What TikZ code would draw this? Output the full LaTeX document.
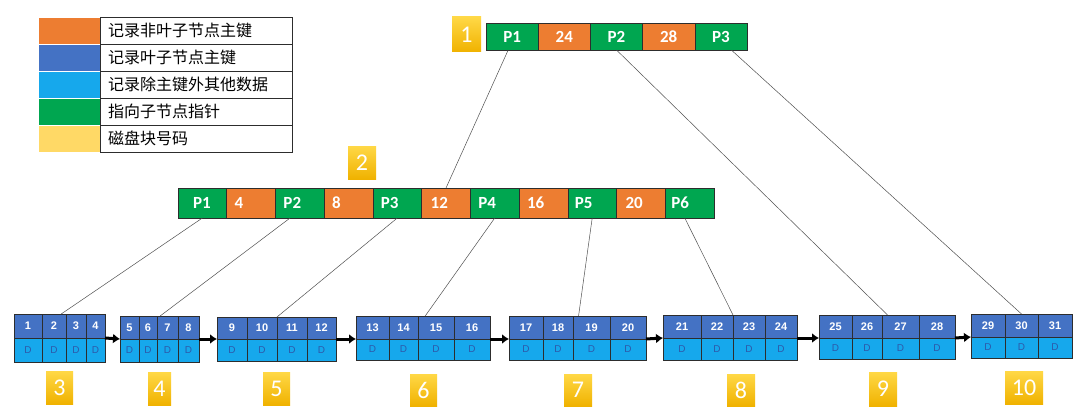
\documentclass[tikz,border=0pt]{standalone}
\usepackage{fontspec}
\setmainfont{Carlito}
\newfontfamily\cjk{Noto Sans CJK SC}
\newfontfamily\arialf{Liberation Sans}
\usetikzlibrary{arrows.meta,calc}
\definecolor{cOrange}{RGB}{237,125,49}
\definecolor{cBlue}{RGB}{68,114,196}
\definecolor{cLight}{RGB}{22,168,236}
\definecolor{cGreen}{RGB}{0,166,80}
\definecolor{cYellow}{RGB}{255,217,102}
\definecolor{cGoldTop}{RGB}{255,216,70}
\definecolor{cGoldBot}{RGB}{240,178,0}
\definecolor{cBorder}{RGB}{45,45,45}
\definecolor{cD}{RGB}{45,90,170}
\definecolor{cLink}{RGB}{80,80,80}
\tikzset{
  keycell/.style={draw=cBorder, fill=cBlue, text=white, line width=0.6pt,
    font=\arialf\bfseries\fontsize{11}{13}\selectfont, anchor=north west, inner sep=0pt, outer sep=0pt},
  datacell/.style={draw=cBorder, fill=cLight, text=cD, line width=0.6pt,
    font=\arialf\fontsize{10}{12}\selectfont, anchor=north west, inner sep=0pt, outer sep=0pt},
  rcell/.style={draw=cBorder, text=white, line width=0.6pt, minimum width=52.2pt, minimum height=27pt,
    font=\bfseries\fontsize{17}{19}\selectfont, anchor=north west, inner sep=0pt, outer sep=0pt},
  mcell/.style={draw=cBorder, text=white, line width=0.6pt, minimum height=30pt, align=left,
    font=\bfseries\fontsize{17}{19}\selectfont, anchor=north west, inner ysep=0pt, outer sep=0pt},
  legcol/.style={draw=white, line width=0.8pt, minimum width=62pt, minimum height=27pt,
    anchor=north west, inner sep=0pt, outer sep=0pt},
  legtxt/.style={draw=cBorder, line width=0.7pt, minimum height=27pt, text width=176pt, inner xsep=8pt,
    align=left, font=\cjk\fontsize{16}{18}\selectfont, anchor=north west, inner ysep=0pt, outer sep=0pt},
  ybox/.style={top color=cGoldTop, bottom color=cGoldBot, draw=none, text=white,
    font=\fontsize{24}{26}\selectfont, anchor=north west, inner sep=0pt, outer sep=0pt},
  link/.style={draw=cLink, line width=0.5pt},
  flow/.style={draw=black, line width=3pt, -{Latex[length=7pt,width=10pt]}}
}
\newcommand\leafblock[5]{%
  \foreach \xa/\xb/\lbl [count=\i] in {#5}{%
    \node[keycell, minimum width={(\xb-\xa)*1pt}, minimum height={(#3-#2)*1pt}] (#1k\i) at (\xa,#2) {\lbl};
    \node[datacell, minimum width={(\xb-\xa)*1pt}, minimum height={(#4-#3)*1pt}] (#1d\i) at (\xa,#3) {D};
  }}
\begin{document}
\begin{tikzpicture}[x=1pt,y=-1pt]
\useasboundingbox (0,0) rectangle (1080,420);
\fill[white] (0,0) rectangle (1080,420);
% legend
\foreach \c/\lbl [count=\i] in {cOrange/记录非叶子节点主键, cBlue/记录叶子节点主键, cLight/记录除主键外其他数据, cGreen/指向子节点指针, cYellow/磁盘块号码}{
  \node[legcol, fill=\c] (lc\i) at (38,{17+27*(\i-1)}) {};
  \node[legtxt] (lt\i) at (100,{17+27*(\i-1)}) {\lbl};
}
% root
\foreach \lbl/\c [count=\i] in {P1/cGreen,24/cOrange,P2/cGreen,28/cOrange,P3/cGreen}{
  \node[rcell, fill=\c] (r\i) at ({486+(\i-1)*52.2},23) {\lbl};
}
% level 2
\foreach \lbl/\c/\p [count=\i] in {P1/cGreen/15,4/cOrange/8,P2/cGreen/8,8/cOrange/8,P3/cGreen/8,12/cOrange/9,P4/cGreen/8,16/cOrange/8,P5/cGreen/7,20/cOrange/9,P6/cGreen/6}{
  \node[mcell, fill=\c, inner xsep=\p pt, text width={(48.73-2*\p)*1pt}] (m\i) at ({178+(\i-1)*48.73},188) {\lbl};
}
% leaves
\leafblock{L3}{314}{338}{362}{14/42/1,42/66/2,66/86/3,86/105/4}
\leafblock{L4}{316}{339}{362}{120/139/5,139/157/6,157/178/7,178/199/8}
\leafblock{L5}{317}{339}{361}{217/247/9,247/277/10,277/307/11,307/336/12}
\leafblock{L6}{316}{339}{360}{356/389/13,389/418/14,418/454/15,454/490/16}
\leafblock{L7}{316}{339}{360}{509/543/17,543/573/18,573/610/19,610/646/20}
\leafblock{L8}{315}{338}{360}{663/701/21,701/733/22,733/765/23,765/797/24}
\leafblock{L9}{315}{338}{359}{819/852/25,852/882/26,882/919/27,919/955/28}
\leafblock{L10}{314}{337}{358}{971/1005/29,1005/1038/30,1038/1072/31}
% block numbers
\node[ybox, minimum width=29pt, minimum height=35pt] (b1) at (452,17) {1};
\node[ybox, minimum width=28pt, minimum height=33pt] (b2) at (348,146) {2};
\node[ybox, minimum width=27pt, minimum height=33pt] (b3) at (46,371) {3};
\node[ybox, minimum width=23pt, minimum height=33pt] (b4) at (148,372) {4};
\node[ybox, minimum width=27pt, minimum height=33pt] (b5) at (263,372) {5};
\node[ybox, minimum width=27pt, minimum height=32pt] (b6) at (410,374) {6};
\node[ybox, minimum width=28pt, minimum height=32pt] (b7) at (564,374) {7};
\node[ybox, minimum width=28pt, minimum height=32pt] (b8) at (727,374) {8};
\node[ybox, minimum width=28pt, minimum height=34pt] (b9) at (869,372) {9};
\node[ybox, minimum width=38pt, minimum height=33pt] (b10) at (1005,371) {10};
% pointers
\draw[link] ($(r1.south)!0.15!(r1.south west)$) -- (m6.north);
\draw[link] (r3.south) -- ($(L9k3.north west)!0.3!(L9k3.north)$);
\draw[link] ($(r5.south)!0.4!(r5.south east)$) -- (L10k2.north);
\draw[link] (m1.south) -- ($(L3k2.north)!0.6!(L3k2.north east)$);
\draw[link] ($(m3.south)!0.4!(m3.south west)$) -- ($(L4k3.north west)!0.3!(L4k3.north)$);
\draw[link] (m5.south) -- (L5k3.north west);
\draw[link] (m7.south) -- ($(L6k3.north west)!0.4!(L6k3.north)$);
\draw[link] (m9.south) -- ($(L7k3.north west)!0.3!(L7k3.north)$);
\draw[link] ($(m11.south)!0.2!(m11.south west)$) -- (L8k2.north east);
% leaf chain
\draw[flow] (L3d4.north east) -- (L4d1.north west);
\draw[flow] (L4d4.north east) -- (L5d1.north west);
\draw[flow] (L5d4.north east) -- (L6d1.north west);
\draw[flow] (L6d4.north east) -- (L7d1.north west);
\draw[flow] (L7d4.north east) -- (L8d1.north west);
\draw[flow] (L8d4.north east) -- (L9d1.north west);
\draw[flow] (L9d4.north east) -- (L10d1.north west);
\end{tikzpicture}
\end{document}
